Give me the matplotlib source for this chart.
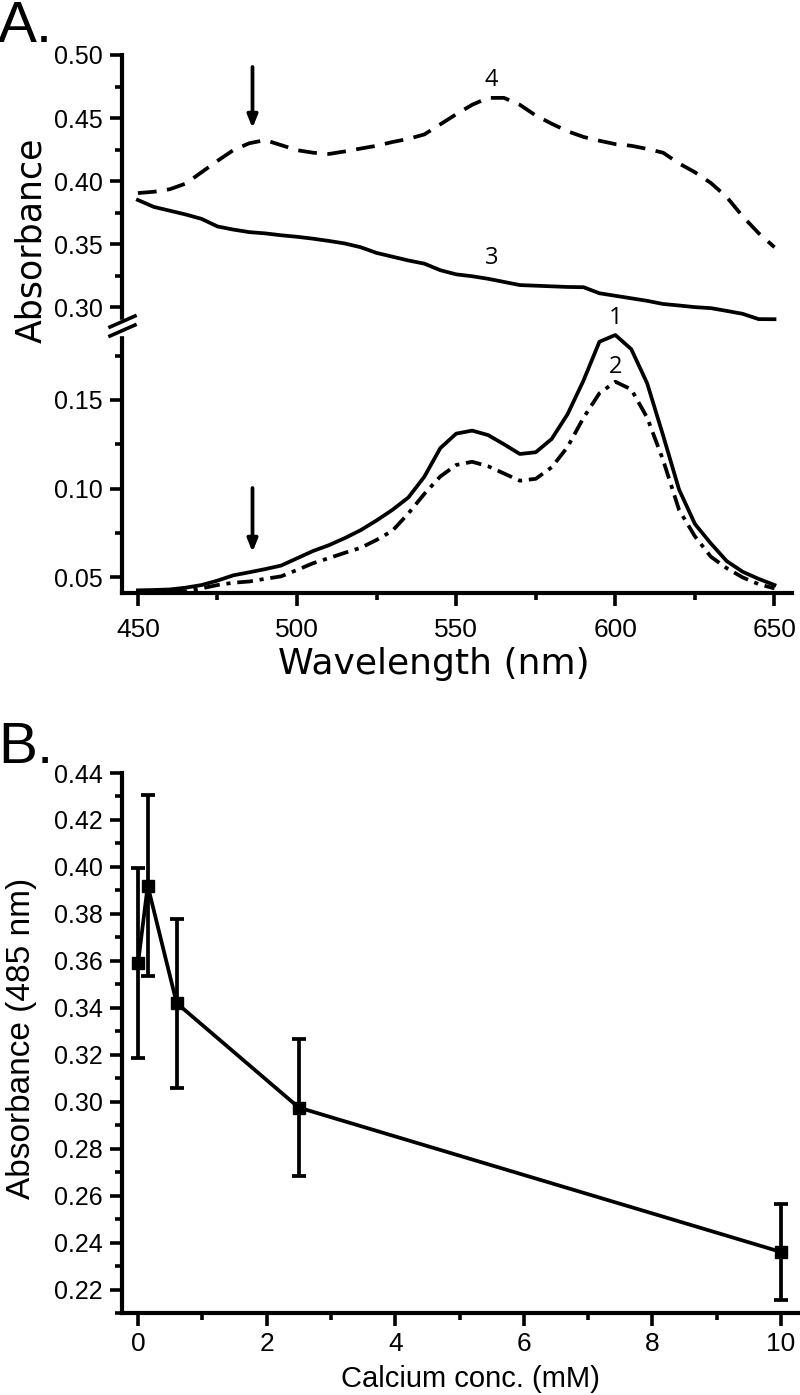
import matplotlib
matplotlib.use("Agg")
import matplotlib.pyplot as plt
from matplotlib.lines import Line2D
from matplotlib.ticker import MultipleLocator, FixedLocator
import numpy as np

plt.rcParams['font.family'] = ['Liberation Sans', 'DejaVu Sans']

# ---------------- data ----------------
wavelength = [450, 455, 460, 465, 470, 475, 480, 485, 490, 495, 500, 505, 510, 515,
              520, 525, 530, 535, 540, 545, 550, 555, 560, 565, 570, 575, 580, 585,
              590, 595, 600, 605, 610, 615, 620, 625, 630, 635, 640, 645, 650]

curve1 = [0.0425, 0.0427, 0.0430, 0.0440, 0.0455, 0.0480, 0.0510, 0.0527, 0.0545, 0.0565,
          0.0606, 0.0647, 0.0680, 0.0720, 0.0765, 0.0820, 0.0880, 0.0950, 0.1067, 0.1228,
          0.1310, 0.1327, 0.1302, 0.1250, 0.1195, 0.1205, 0.1280, 0.1420, 0.1610, 0.1829,
          0.1867, 0.1787, 0.1594, 0.1300, 0.0995, 0.0800, 0.0690, 0.0590, 0.0530, 0.0490, 0.0455]

curve2 = [0.0410, 0.0413, 0.0416, 0.0420, 0.0436, 0.0455, 0.0468, 0.0475, 0.0490, 0.0504,
          0.0540, 0.0578, 0.0607, 0.0637, 0.0665, 0.0710, 0.0762, 0.0860, 0.0970, 0.1068,
          0.1133, 0.1151, 0.1126, 0.1085, 0.1044, 0.1055, 0.1120, 0.1235, 0.1400, 0.1538,
          0.1603, 0.1560, 0.1400, 0.1161, 0.0880, 0.0730, 0.0615, 0.0550, 0.0498, 0.0460, 0.0436]

curve3 = [0.3850, 0.3795, 0.3765, 0.3735, 0.3700, 0.3640, 0.3615, 0.3595, 0.3585, 0.3570,
          0.3558, 0.3543, 0.3525, 0.3505, 0.3475, 0.3430, 0.3400, 0.3370, 0.3345, 0.3293,
          0.3260, 0.3245, 0.3225, 0.3200, 0.3175, 0.3170, 0.3165, 0.3160, 0.3158, 0.3110,
          0.3090, 0.3070, 0.3050, 0.3025, 0.3013, 0.3000, 0.2992, 0.2970, 0.2947, 0.2905, 0.2904]

curve4 = [0.3905, 0.3915, 0.3935, 0.3980, 0.4070, 0.4160, 0.4246, 0.4300, 0.4325, 0.4285,
          0.4245, 0.4225, 0.4215, 0.4235, 0.4258, 0.4280, 0.4310, 0.4335, 0.4370, 0.4450,
          0.4530, 0.4605, 0.4660, 0.4660, 0.4605, 0.4520, 0.4455, 0.4395, 0.4350, 0.4320,
          0.4293, 0.4280, 0.4255, 0.4225, 0.4140, 0.4070, 0.3985, 0.3873, 0.3720, 0.3587, 0.3475]

calcium = [0.0, 0.15, 0.6, 2.5, 10.0]
abs485 = [0.359, 0.392, 0.342, 0.2975, 0.236]
abs485_err = [0.0405, 0.0385, 0.036, 0.029, 0.0206]

# ---------------- layout helpers ----------------
W, H = 800, 1395
fig = plt.figure(figsize=(W / 100, H / 100), dpi=100)


def rect(l, t, r, b):
    return [l / W, 1 - b / H, (r - l) / W, (b - t) / H]


LW = 2.7
TICKFS = 18

def style(ax):
    for s in ['top', 'right']:
        ax.spines[s].set_visible(False)
    for s in ['left', 'bottom']:
        ax.spines[s].set_linewidth(3.0)
    ax.tick_params(which='major', direction='out', length=9, width=2.6, labelsize=TICKFS, pad=5)
    ax.tick_params(which='minor', direction='out', length=5, width=2.6)


# Panel A
axT = fig.add_axes(rect(122, 55, 792, 321))
axB = fig.add_axes(rect(122, 335, 792, 593))
for ax in (axT, axB):
    style(ax)
    ax.set_xlim(445, 655.5)
    ax.patch.set_alpha(0)

axT.set_ylim(0.289, 0.50)
axB.set_ylim(0.041, 0.1867)

axT.spines['bottom'].set_visible(False)
axT.tick_params(axis='x', which='both', bottom=False, labelbottom=False)
axT.yaxis.set_major_locator(FixedLocator([0.30, 0.35, 0.40, 0.45, 0.50]))
axT.yaxis.set_minor_locator(FixedLocator([0.325, 0.375, 0.425, 0.475]))
axT.yaxis.set_major_formatter(plt.FuncFormatter(lambda v, p: f"{v:.2f}"))

axB.yaxis.set_major_locator(FixedLocator([0.05, 0.10, 0.15]))
axB.yaxis.set_minor_locator(FixedLocator([0.075, 0.125, 0.175]))
axB.yaxis.set_major_formatter(plt.FuncFormatter(lambda v, p: f"{v:.2f}"))
axB.xaxis.set_major_locator(MultipleLocator(50))
axB.xaxis.set_minor_locator(MultipleLocator(25))
axB.tick_params(axis='x', labelsize=19, pad=9)

axT.plot(wavelength, curve4, color='black', lw=LW, dashes=(5.0, 2.8), clip_on=False)
axT.plot(wavelength, curve3, color='black', lw=LW, clip_on=False)
axB.plot(wavelength, curve1, color='black', lw=LW, clip_on=False)
axB.plot(wavelength, curve2, color='black', lw=LW, dashes=(4.2, 1.8, 1.1, 1.8), clip_on=False)

# arrows
ASTYLE = '-|>,head_length=0.75,head_width=0.3'
axT.annotate('', xy=(486, 0.442), xytext=(486, 0.4905),
             arrowprops=dict(arrowstyle=ASTYLE, lw=LW, color='black', shrinkA=0, shrinkB=0))
axB.annotate('', xy=(486, 0.0641), xytext=(486, 0.1003),
             arrowprops=dict(arrowstyle=ASTYLE, lw=LW, color='black', shrinkA=0, shrinkB=0))

LBLFONT = ['Open Sans', 'DejaVu Sans']
axT.text(561, 0.480, '4', fontsize=17, ha='center', va='center', family=LBLFONT)
axT.text(561, 0.339, '3', fontsize=17, ha='center', va='center', family=LBLFONT)
axB.text(600, 0.1963, '1', fontsize=17, ha='center', va='center', family=LBLFONT, clip_on=False)
axB.text(600, 0.1687, '2', fontsize=17, ha='center', va='center', family=LBLFONT)

# break marks
fig.add_artist(plt.Rectangle((115 / W, 1 - 335 / H), 14 / W, 15 / H,
                             transform=fig.transFigure, color='white', zorder=5))
for dy in (0, 9):
    l = Line2D([110 / W, 135 / W], [1 - (327 + dy) / H, 1 - (316 + dy) / H],
               transform=fig.transFigure, color='black', lw=2.6, zorder=6)
    fig.add_artist(l)

LABFONT = ['DejaVu Sans']
fig.text(31 / W, 1 - 240 / H, 'Absorbance', rotation=90, fontsize=25,
         ha='center', va='center', family=LABFONT)
fig.text(434 / W, 1 - 664 / H, 'Wavelength (nm)', fontsize=26,
         ha='center', va='center', family=LABFONT)
fig.text(-2 / W, 1 - 42 / H, 'A.', fontsize=42, ha='left', va='baseline')

# Panel B
axC = fig.add_axes(rect(122, 773, 799, 1313))
style(axC)
axC.set_xlim(-0.25, 10.28)
axC.set_ylim(0.21, 0.44)
axC.yaxis.set_major_locator(MultipleLocator(0.02))
axC.yaxis.set_minor_locator(MultipleLocator(0.01))
axC.yaxis.set_major_formatter(plt.FuncFormatter(lambda v, p: f"{v:.2f}"))
axC.xaxis.set_major_locator(MultipleLocator(2))
axC.xaxis.set_minor_locator(MultipleLocator(1))
axC.tick_params(axis='x', labelsize=19, pad=5)
axC.errorbar(calcium, abs485, yerr=abs485_err, fmt='s-', color='black', lw=LW,
             markersize=9, elinewidth=LW, capsize=5, capthick=LW, clip_on=False)

fig.text(22 / W, 1 - 1038 / H, 'Absorbance (485 nm)', rotation=90, fontsize=24,
         ha='center', va='center')
fig.text(470 / W, 1 - 1379 / H, 'Calcium conc. (mM)', fontsize=21,
         ha='center', va='center')
fig.text(-2 / W, 1 - 763 / H, 'B.', fontsize=42, ha='left', va='baseline')

fig.savefig('out.png', dpi=100)
